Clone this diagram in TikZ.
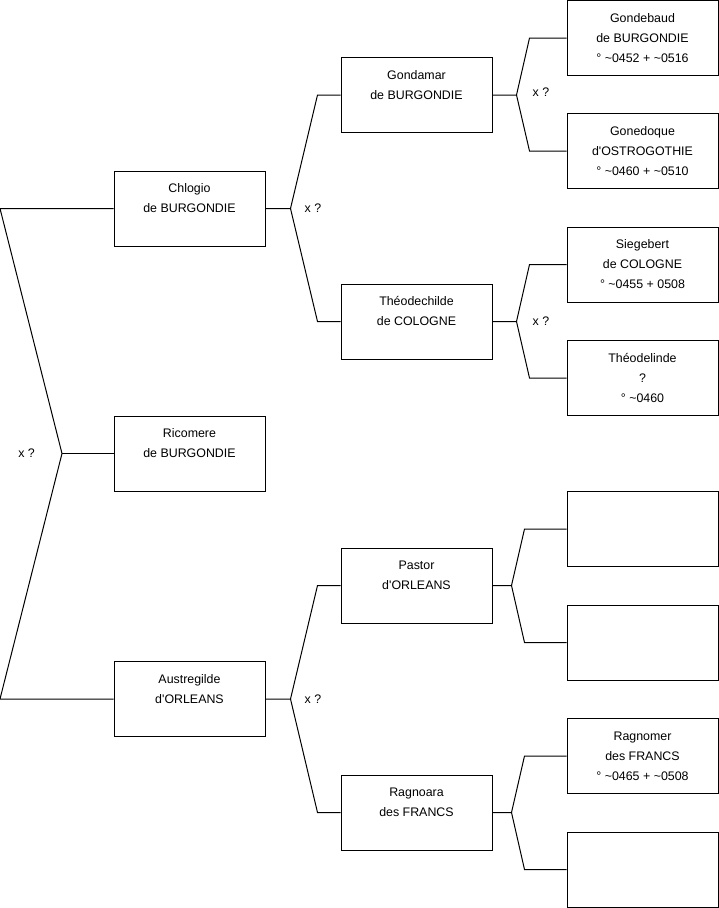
\documentclass[tikz,border=0pt]{standalone}
\usepackage{fontspec}
\setmainfont{Liberation Sans}
\usetikzlibrary{positioning, calc}

% three text lines of a person box
\newcommand{\who}[3]{\strut #1\\#2\\#3\strut}

\begin{document}
\begin{tikzpicture}[x=1pt, y=-1pt,
  person/.style={draw, line width=1pt, minimum width=151pt, minimum height=75pt,
    inner sep=0pt, align=center, font=\fontsize{12.4}{20}\selectfont},
  link/.style={line width=1pt},
  xq/.style={font=\fontsize{12.4}{14}\selectfont, inner sep=0pt}]

\useasboundingbox (0,0) rectangle (719,908);

% Column 1
\node[person] (chlogio) at (189.5,208.5) {\who{Chlogio}{de BURGONDIE}{}};
\node[person] (ricomere) at (189.5,453.5) {\who{Ricomere}{de BURGONDIE}{}};
\node[person] (austregilde) at (189.5,699) {\who{Austregilde}{d\textquotesingle ORLEANS}{}};

% Column 2
\node[person] (gondamar) at (416.5,95) {\who{Gondamar}{de BURGONDIE}{}};
\node[person] (theodechilde) at (416.5,321.5) {\who{Théodechilde}{de COLOGNE}{}};
\node[person] (pastor) at (416.5,585.5) {\who{Pastor}{d\textquotesingle ORLEANS}{}};
\node[person] (ragnoara) at (416.5,812.5) {\who{Ragnoara}{des FRANCS}{}};

% Column 3
\node[person] (gondebaud) at (642.5,38) {\who{Gondebaud}{de BURGONDIE}{° \textasciitilde0452 + \textasciitilde0516}};
\node[person] (gonedoque) at (642.5,151) {\who{Gonedoque}{d\textquotesingle OSTROGOTHIE}{° \textasciitilde0460 + \textasciitilde0510}};
\node[person] (siegebert) at (642.5,264.5) {\who{Siegebert}{de COLOGNE}{° \textasciitilde0455 + 0508}};
\node[person] (theodelinde) at (642.5,378) {\who{Théodelinde}{?}{° \textasciitilde0460}};
\node[person] (emptyA) at (642.5,529) {};
\node[person] (emptyB) at (642.5,642.5) {};
\node[person] (ragnomer) at (642.5,756) {\who{Ragnomer}{des FRANCS}{° \textasciitilde0465 + \textasciitilde0508}};
\node[person] (emptyC) at (642.5,869.5) {};

% Root fork
\coordinate (rootA) at (chlogio.west -| 0,0);
\coordinate (rootB) at (austregilde.west -| 0,0);
\coordinate (jroot) at (ricomere.west -| 62,0);
\draw[link] (chlogio.west) -- (rootA) -- (jroot) -- (rootB) -- (austregilde.west);
\draw[link] (jroot) -- (ricomere.west);
\node[xq, left=27pt of jroot] (xroot) {x ?};

% Chlogio fork
\coordinate (jchl) at ($(chlogio.east)+(25,0)$);
\draw[link] (chlogio.east) -- (jchl) -- ($(gondamar.west)+(-23,0)$) -- (gondamar.west);
\draw[link] (jchl) -- ($(theodechilde.west)+(-23,0)$) -- (theodechilde.west);
\node[xq, right=14pt of jchl] (xchl) {x ?};

% Austregilde fork
\coordinate (jaus) at ($(austregilde.east)+(25,0)$);
\draw[link] (austregilde.east) -- (jaus) -- ($(pastor.west)+(-23,0)$) -- (pastor.west);
\draw[link] (jaus) -- ($(ragnoara.west)+(-23,0)$) -- (ragnoara.west);
\node[xq, right=14pt of jaus] (xaus) {x ?};

% Gondamar fork
\coordinate (jgon) at ($(gondamar.east)+(24,0)$);
\draw[link] (gondamar.east) -- (jgon) -- ($(gondebaud.west)+(-37,0)$) -- (gondebaud.west);
\draw[link] (jgon) -- ($(gonedoque.west)+(-37,0)$) -- (gonedoque.west);
\node[xq, right=16pt of jgon, yshift=3pt] (xgon) {x ?};

% Theodechilde fork
\coordinate (jthe) at ($(theodechilde.east)+(24,0)$);
\draw[link] (theodechilde.east) -- (jthe) -- ($(siegebert.west)+(-37,0)$) -- (siegebert.west);
\draw[link] (jthe) -- ($(theodelinde.west)+(-37,0)$) -- (theodelinde.west);
\node[xq, right=16pt of jthe] (xthe) {x ?};

% Pastor fork
\coordinate (jpas) at ($(pastor.east)+(19,0)$);
\draw[link] (pastor.east) -- (jpas) -- ($(emptyA.west)+(-42,0)$) -- (emptyA.west);
\draw[link] (jpas) -- ($(emptyB.west)+(-42,0)$) -- (emptyB.west);

% Ragnoara fork
\coordinate (jrag) at ($(ragnoara.east)+(19,0)$);
\draw[link] (ragnoara.east) -- (jrag) -- ($(ragnomer.west)+(-42,0)$) -- (ragnomer.west);
\draw[link] (jrag) -- ($(emptyC.west)+(-42,0)$) -- (emptyC.west);

\end{tikzpicture}
\end{document}
